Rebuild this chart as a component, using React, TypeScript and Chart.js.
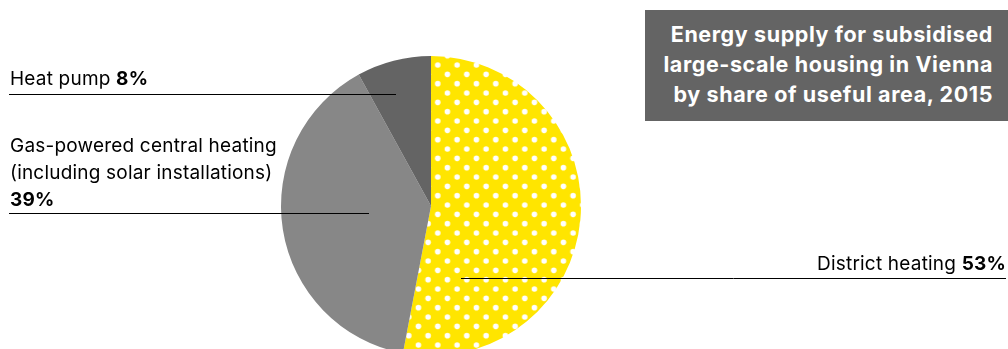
import React, { useEffect, useRef } from "react";
import { Chart, registerables } from "chart.js";

Chart.register(...registerables);

// ---- data ----
const categories = ["District heating", "Gas-powered central heating (including solar installations)", "Heat pump"];
const shares = [53, 39, 8];
const shareLabels = ["53%", "39%", "8%"];
const titleLines = ["Energy supply for subsidised", "large-scale housing in Vienna", "by share of useful area, 2015"];

// ---- styles ----
const YELLOW = "#ffe500";
const GAS_GREY = "#878787";
const PUMP_GREY = "#646464";
const FONT = "Inter, 'Open Sans', sans-serif";

// leader lines: inner end relative to pie centre, outer x absolute
const LEADERS = [
  { dx: 30, dy: 71.5, outerX: 1006 },
  { dx: -62, dy: 6.5, outerX: 9 },
  { dx: -35, dy: -112.5, outerX: 9 },
];

function makeDots(ctx: CanvasRenderingContext2D): CanvasPattern | string {
  const tile = document.createElement("canvas");
  const W = 58, H = 56;
  tile.width = W;
  tile.height = H;
  const c = tile.getContext("2d");
  if (!c) return YELLOW;
  c.fillStyle = YELLOW;
  c.fillRect(0, 0, W, H);
  c.fillStyle = "#ffffff";
  const sx = W / 6, sy = H / 6;
  for (let m = -1; m <= 6; m++) {
    for (let k = -1; k <= 6; k++) {
      if ((((k + m) % 2) + 2) % 2 !== 0) continue;
      c.beginPath();
      c.arc(k * sx, m * sy, 2.8, 0, Math.PI * 2);
      c.fill();
    }
  }
  const p = ctx.createPattern(tile, "repeat");
  if (!p) return YELLOW;
  p.setTransform(new DOMMatrix().translate(437.7 % W, 65 % H));
  return p;
}

const leaderPlugin = {
  id: "leaders",
  afterDatasetsDraw(chart: any) {
    const ctx = chart.ctx as CanvasRenderingContext2D;
    const meta = chart.getDatasetMeta(0);
    ctx.save();
    ctx.strokeStyle = "#000";
    ctx.lineWidth = 1;
    meta.data.forEach((arc: any, i: number) => {
      const { x, y } = arc.getProps(["x", "y"], true);
      const l = LEADERS[i];
      if (!l) return;
      ctx.beginPath();
      ctx.moveTo(x + l.dx, Math.round(y + l.dy) + 0.5);
      ctx.lineTo(l.outerX, Math.round(y + l.dy) + 0.5);
      ctx.stroke();
    });
    ctx.restore();
  },
};

export default function App() {
  const ref = useRef<HTMLCanvasElement>(null);

  useEffect(() => {
    const canvas = ref.current;
    if (!canvas) return;
    const ctx = canvas.getContext("2d");
    if (!ctx) return;
    const chart = new Chart(ctx, {
      type: "pie",
      data: {
        labels: categories,
        datasets: [
          {
            data: shares,
            backgroundColor: [makeDots(ctx), GAS_GREY, PUMP_GREY],
            borderWidth: 0,
          },
        ],
      },
      options: {
        responsive: false,
        animation: false,
        devicePixelRatio: 1,
        layout: { padding: { left: 281, right: 427, top: 56, bottom: 64 } },
        plugins: {
          legend: { display: false },
          tooltip: { enabled: false },
          title: { display: false },
        },
        events: [],
      },
      plugins: [leaderPlugin],
    });
    return () => chart.destroy();
  }, []);

  const label: React.CSSProperties = {
    position: "absolute",
    fontFamily: FONT,
    fontSize: 19,
    letterSpacing: "0.2px",
    lineHeight: "27px",
    color: "#000",
    whiteSpace: "nowrap",
  };

  return (
    <div style={{ position: "absolute", left: 0, top: 0, width: 1008, height: 349, overflow: "hidden", background: "#fff" }}>
      <canvas ref={ref} width={1008} height={420} style={{ position: "absolute", left: 0, top: 0, width: 1008, height: 420 }} />
      <div
        style={{
          position: "absolute",
          left: 645,
          top: 10,
          width: 363,
          height: 111,
          background: PUMP_GREY,
          boxSizing: "border-box",
          paddingTop: 8.5,
          paddingRight: 15,
          textAlign: "right",
          color: "#fff",
          fontFamily: FONT,
          fontWeight: 700,
          fontSize: 21.5,
          letterSpacing: "0.6px",
          lineHeight: "30px",
          whiteSpace: "nowrap",
        }}
      >
        {titleLines.map((t) => (
          <div key={t}>{t}</div>
        ))}
      </div>
      <div style={{ ...label, left: 10, top: 64.6 }}>
        Heat pump <b>{shareLabels[2]}</b>
      </div>
      <div style={{ ...label, left: 10, top: 132.1 }}>
        <div>Gas-powered central heating</div>
        <div>(including solar installations)</div>
        <div><b>{shareLabels[1]}</b></div>
      </div>
      <div style={{ ...label, right: 2, top: 249.6 }}>
        {categories[0]} <b>{shareLabels[0]}</b>
      </div>
    </div>
  );
}
